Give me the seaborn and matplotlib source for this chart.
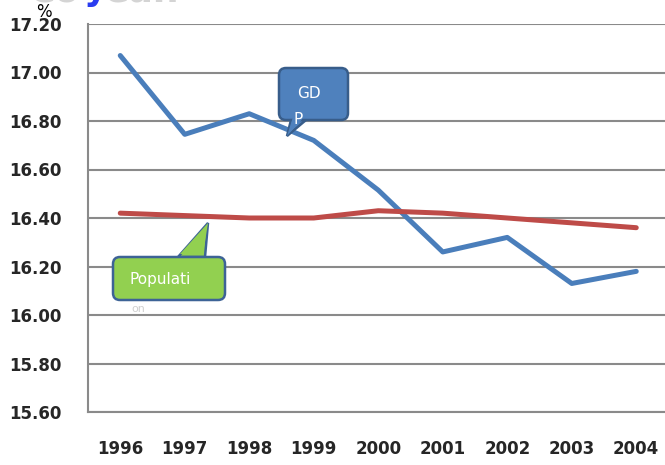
import numpy as np
import pandas as pd
import matplotlib
matplotlib.use("Agg")
from matplotlib import pyplot as plt
from matplotlib.patches import FancyBboxPatch, Polygon
import seaborn as sns

# values
years = ["1996", "1997", "1998", "1999", "2000", "2001", "2002", "2003", "2004"]
gdp = [17.07, 16.745, 16.83, 16.72, 16.515, 16.26, 16.32, 16.13, 16.18]
population = [16.42, 16.41, 16.40, 16.40, 16.43, 16.42, 16.40, 16.38, 16.36]
y_ticks = [15.6, 15.8, 16.0, 16.2, 16.4, 16.6, 16.8, 17.0, 17.2]

df = pd.DataFrame({
    "year": years * 2,
    "value": gdp + population,
    "series": ["GDP"] * len(years) + ["Population"] * len(years),
})

sns.set_style("white")
plt.rcParams["font.family"] = ["DejaVu Sans"]

W, H = 665, 465
fig = plt.figure(figsize=(W / 100, H / 100), dpi=100)
# plot area in pixels: left 88, width 580.5, top 24, bottom 412
ax = fig.add_axes([88 / W, (H - 412) / H, 580.5 / W, (412 - 24) / H])

sns.lineplot(data=df, x="year", y="value", hue="series",
             palette={"GDP": "#4a7ebb", "Population": "#be4b48"},
             linewidth=3.6, legend=False, ax=ax, zorder=3)

ax.set_xlim(-0.5, len(years) - 0.5)
ax.set_ylim(15.6, 17.2)
ax.set_yticks(y_ticks)
ax.set_yticklabels([f"{v:.2f}" for v in y_ticks], fontsize=12, fontweight="bold")
ax.set_xticks(range(len(years)))
ax.set_xticklabels(years, fontsize=12, fontweight="bold")
ax.set_xticks(np.arange(-0.5, len(years), 1.0), minor=True)
ax.set_xlabel("")
ax.set_ylabel("")

grey = "#8a8a8a"
ax.yaxis.grid(True, color=grey, linewidth=1.5)
ax.set_axisbelow(True)
for side in ["top", "right"]:
    ax.spines[side].set_visible(False)
for side in ["left", "bottom"]:
    ax.spines[side].set_color(grey)
    ax.spines[side].set_linewidth(1.5)
ax.tick_params(axis="y", direction="out", length=6, width=1.5, color=grey, pad=13)
ax.tick_params(axis="x", which="major", length=0, pad=20)
ax.tick_params(axis="x", which="minor", direction="out", length=6, width=1.5, color=grey)

# overlay in pixel coordinates for callouts and stray text
ov = fig.add_axes([0, 0, 1, 1])
ov.set_xlim(0, W)
ov.set_ylim(H, 0)
ov.axis("off")
ov.patch.set_alpha(0)

ov.text(36, 17, "%", fontsize=12, color="black")
# clipped title remnants at the very top
ov.text(28, 2, "Co", fontsize=26, fontweight="bold", color="#d4d4d4", va="baseline")
ov.text(84, 0, "y", fontsize=26, fontweight="bold", color="#2a3cf0", va="baseline")
ov.text(104, 2, "ean", fontsize=26, fontweight="bold", color="#d4d4d4", va="baseline")


def callout(x0, y0, w, h, tip, base, face, edge):
    wedge = [base[0], tip, base[1]]
    ov.add_patch(Polygon(wedge, closed=True, facecolor=face, edgecolor=edge,
                         linewidth=1.8, zorder=5))
    ov.add_patch(FancyBboxPatch((x0, y0), w, h, boxstyle="round,pad=0,rounding_size=7",
                                facecolor=face, edgecolor=edge, linewidth=1.8, zorder=6))
    inner = [(base[0][0] + 2, base[0][1] - 3), tip, (base[1][0] - 2, base[1][1] - 3)]
    ov.add_patch(Polygon(inner, closed=True, facecolor=face, edgecolor="none", zorder=7))


callout(279, 68, 69, 52, (287, 136), [(291, 120), (306, 120)], "#4f81bd", "#385d8a")
ov.text(309, 93, "GD", fontsize=11, color="white", ha="center", va="center", zorder=8)
ov.text(298, 119, "P", fontsize=11, color="white", ha="center", va="center", zorder=8)

callout(113, 257, 112, 43, (208, 223), [(178, 257), (205, 257)], "#92d050", "#3d6396")
ov.text(160, 279, "Populati", fontsize=11, color="white", ha="center", va="center", zorder=8)
ov.text(138, 309, "on", fontsize=8, color="#d0d0d0", ha="center", va="center", zorder=8)

fig.savefig("out.png", dpi=100)
